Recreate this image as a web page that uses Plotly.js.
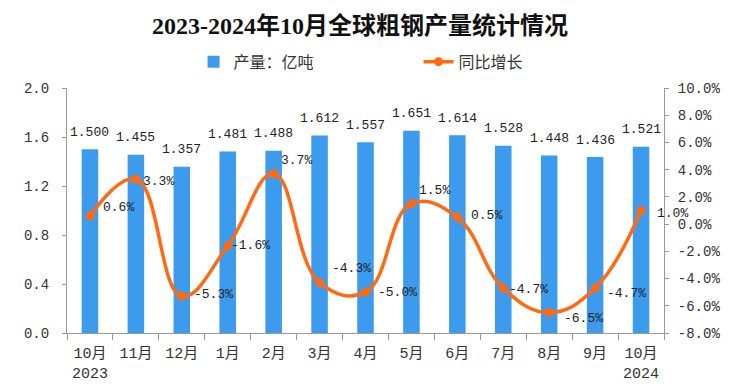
<!DOCTYPE html>
<html>
<head>
<meta charset="utf-8">
<script src="https://cdn.plot.ly/plotly-3.0.1.min.js"></script>
<style>html,body{margin:0;padding:0;background:#fff;}#chart{width:744px;height:389px;}</style>
</head>
<body>
<div id="chart"></div>
<script>
// Data
const categories = ['10月<br>2023','11月','12月','1月','2月','3月','4月','5月','6月','7月','8月','9月','10月<br>2024'];
const output = [1.500,1.455,1.357,1.481,1.488,1.612,1.557,1.651,1.614,1.528,1.448,1.436,1.521];
const growth = [0.6,3.3,-5.3,-1.6,3.7,-4.3,-5.0,1.5,0.5,-4.7,-6.5,-4.7,1.0];
const leftTicks = [0,0.4,0.8,1.2,1.6,2.0];
const rightTicks = [-8,-6,-4,-2,0,2,4,6,8,10];

// Label offsets (pixels) for growth labels
const gxShift = [29,23,32,23,23,32,32,23,29,25,34,31,31];
const gyShift = [8,-2,2,0,13,14,0,13,2,-1,-6,-5,-3];

const monoFont = 'Liberation Mono, Noto Sans CJK SC, monospace';
const barColor = '#3D9BEE';
const lineColor = '#FF6A13';

const traces = [
  {type:'bar', name:'产量：亿吨', x:categories, y:output, marker:{color:barColor}, width:0.36, yaxis:'y', hoverinfo:'x+y'},
  {type:'scatter', mode:'lines+markers', name:'同比增长', x:categories, y:growth, yaxis:'y2',
   line:{color:lineColor, width:3.5, shape:'spline', smoothing:1.2},
   marker:{color:lineColor, size:9}}
];

const annotations = [];
categories.forEach((c,i)=>{
  annotations.push({x:c, y:output[i], xref:'x', yref:'y', text:output[i].toFixed(3), showarrow:false,
    yshift:17, font:{family:monoFont, size:13, color:'#222'}});
  annotations.push({x:c, y:growth[i], xref:'x', yref:'y2', text:growth[i].toFixed(1)+'%', showarrow:false,
    xshift:gxShift[i], yshift:gyShift[i], font:{family:monoFont, size:13, color:'#222'}});
});

const layout = {
  width:744, height:389,
  margin:{l:67, r:80, t:88, b:56},
  paper_bgcolor:'#fff', plot_bgcolor:'#fff',
  title:{text:'<b>2023-2024年10月全球粗钢产量统计情况</b>', x:0.484, xanchor:'center', y:0.935, yanchor:'middle',
    font:{family:'Liberation Serif, Noto Sans CJK SC, serif', size:24, color:'#111'}},
  showlegend:true,
  legend:{orientation:'h', x:0.212, xanchor:'left', y:1.107, yanchor:'middle',
    font:{family:'Noto Sans CJK SC, sans-serif', size:16, color:'#333'}, entrywidth:180, bgcolor:'rgba(0,0,0,0)'},
  xaxis:{type:'category', range:[-0.5,12.5], showline:true, linecolor:'#999', linewidth:1, ticks:'outside', tickson:'boundaries',
    ticklen:6, tickcolor:'#999', showgrid:false, tickangle:0, automargin:false, ticklabelstandoff:6,
    tickfont:{family:monoFont, size:15, color:'#333'}},
  yaxis:{range:[0,2.0], tickvals:leftTicks, ticktext:leftTicks.map(v=>v.toFixed(1)), showline:true, linecolor:'#999',
    ticks:'outside', ticklen:4, tickcolor:'#999', showgrid:false, zeroline:false, ticklabelstandoff:10, automargin:false,
    tickfont:{family:monoFont, size:14, color:'#333'}},
  yaxis2:{range:[-8,10], overlaying:'y', side:'right', tickvals:rightTicks, ticktext:rightTicks.map(v=>v.toFixed(1)+'%'),
    showline:true, linecolor:'#999', ticks:'outside', ticklen:4, tickcolor:'#999', showgrid:false, zeroline:false,
    ticklabelstandoff:6, automargin:false,
    tickfont:{family:monoFont, size:14, color:'#333'}},
  annotations:annotations
};

Plotly.newPlot('chart', traces, layout, {displayModeBar:false, responsive:false});
</script>
</body>
</html>
